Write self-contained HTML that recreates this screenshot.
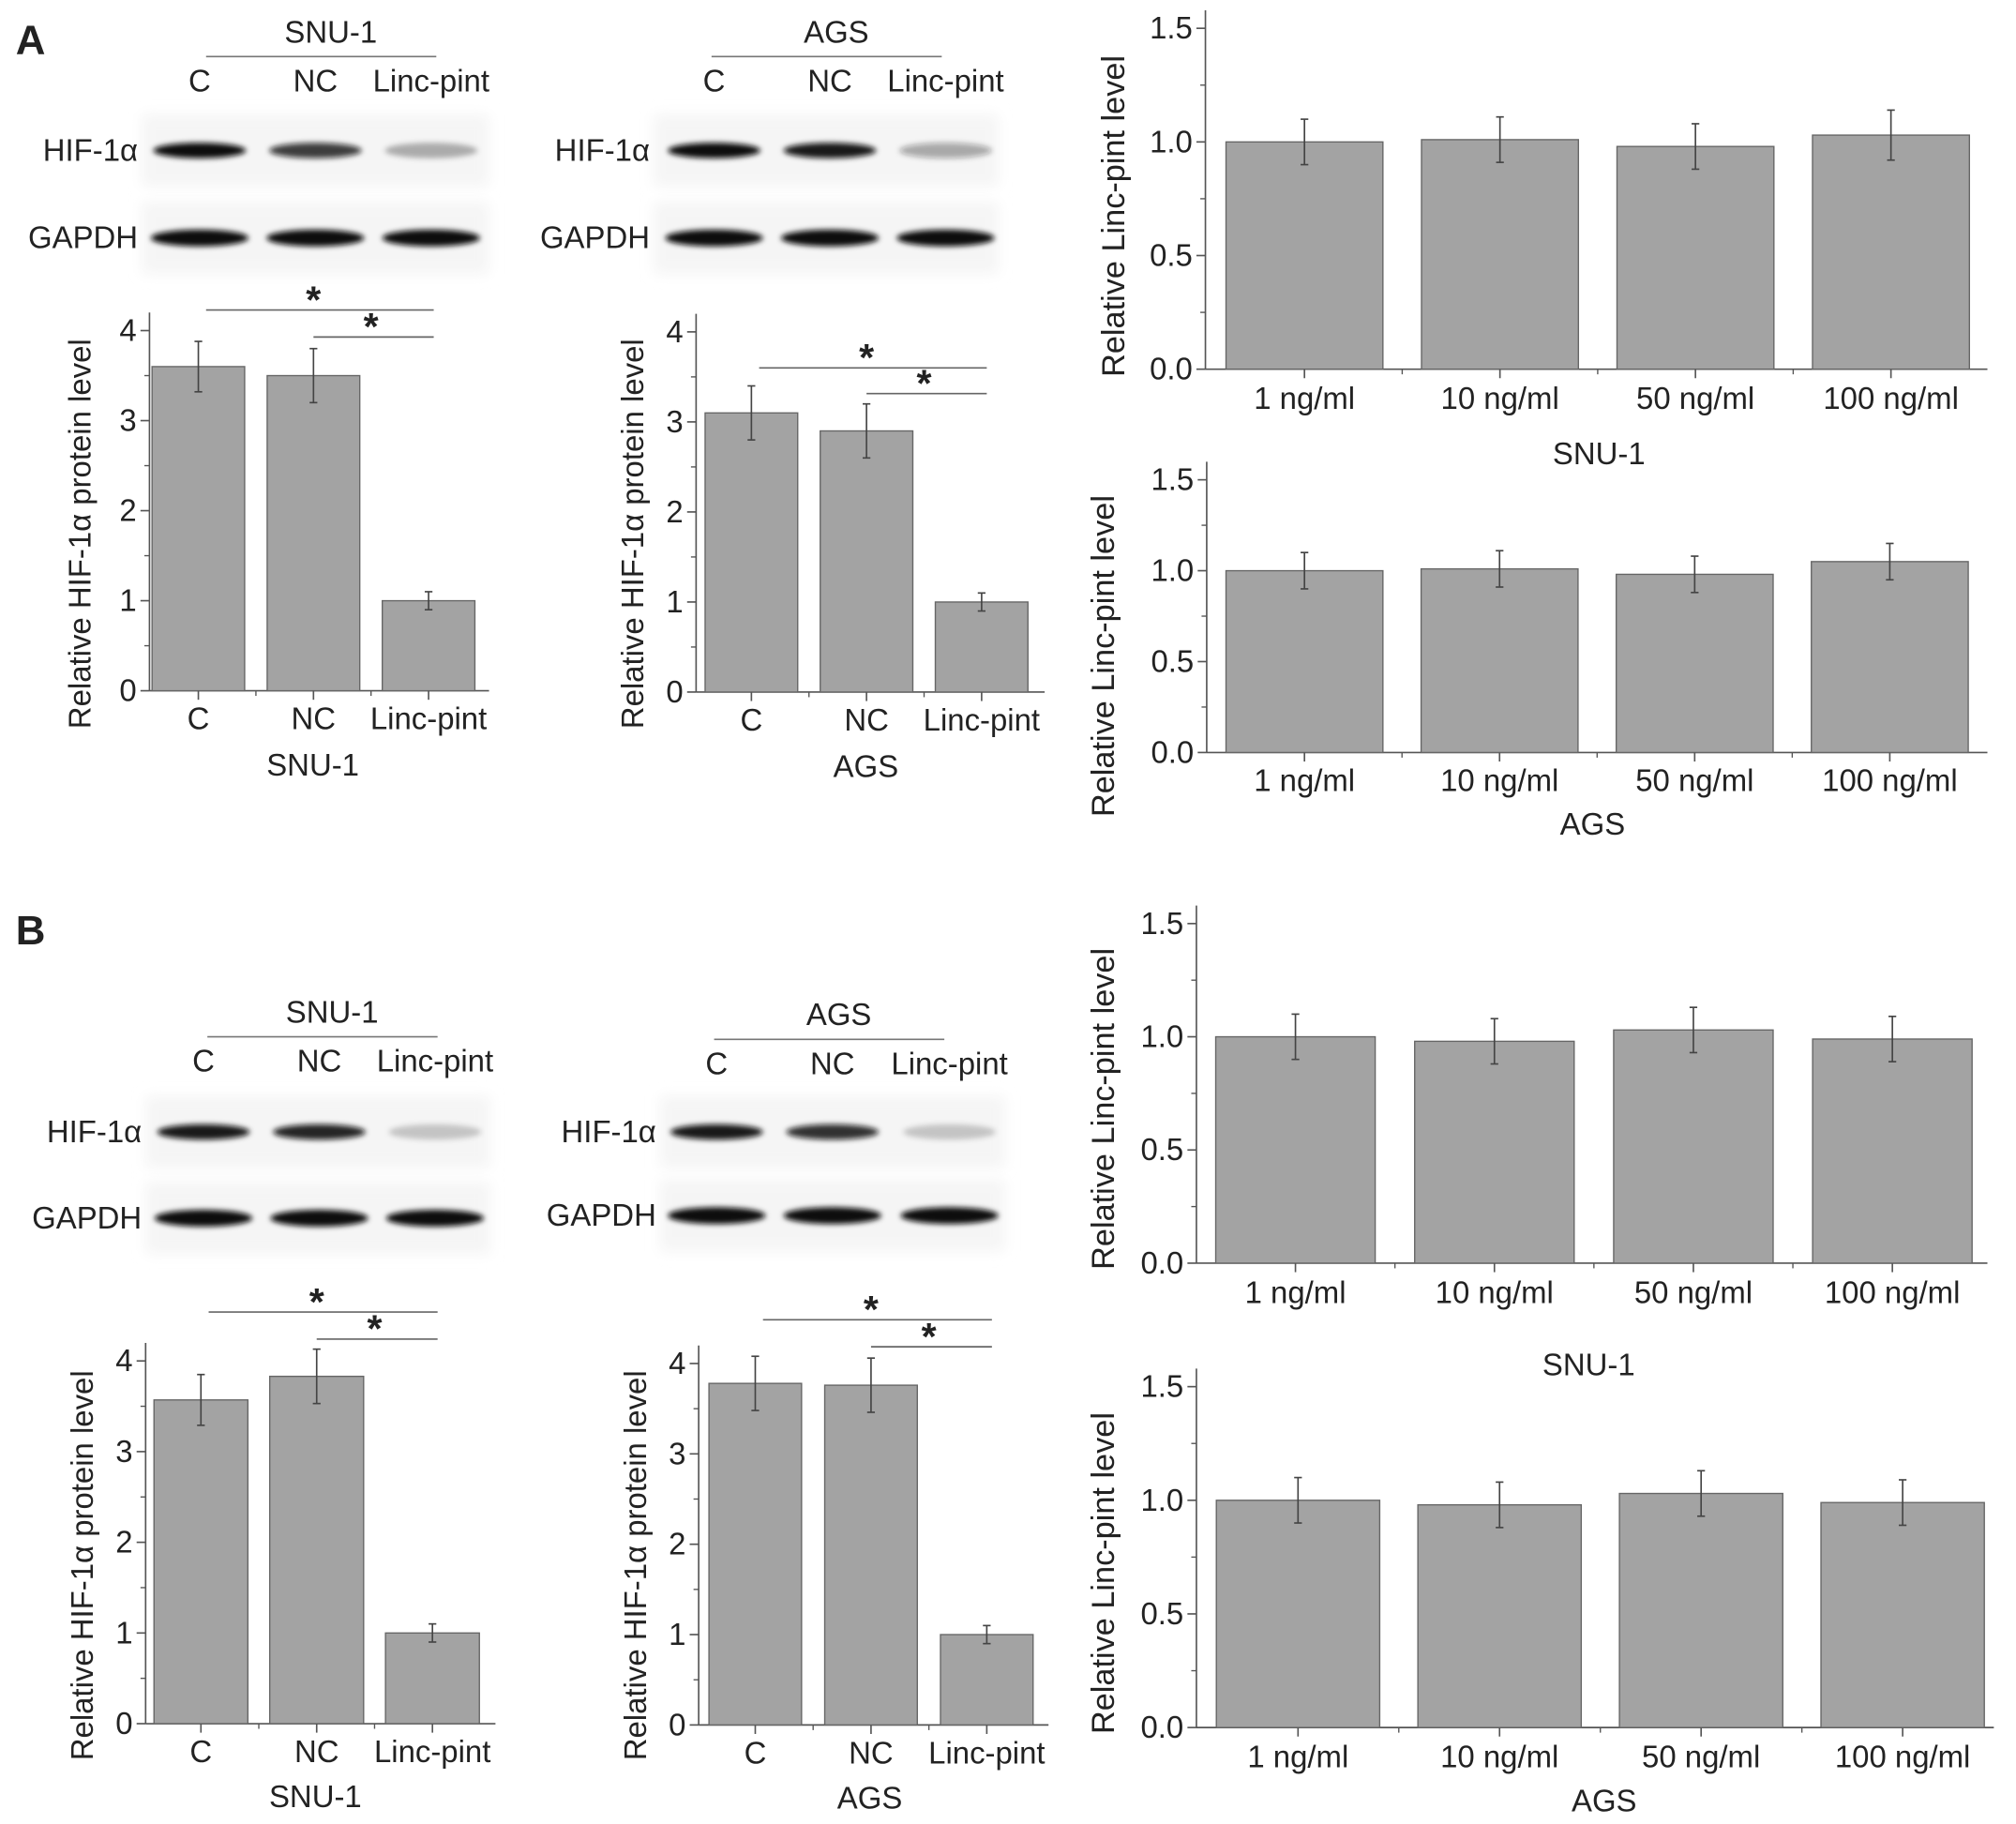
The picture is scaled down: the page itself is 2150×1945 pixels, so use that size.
<!DOCTYPE html>
<html><head><meta charset="utf-8"><style>
html,body{margin:0;padding:0;background:#fff}
svg{display:block}
text{font-family:"Liberation Sans",sans-serif;fill:#222}
</style></head><body>
<svg id="fig" width="2150" height="1945" viewBox="0 0 1567 1418" xmlns="http://www.w3.org/2000/svg">
<defs>
<filter id="blur" x="-20%" y="-100%" width="140%" height="300%"><feGaussianBlur stdDeviation="2.2"/></filter>
<filter id="blur2" x="-10%" y="-50%" width="120%" height="200%"><feGaussianBlur stdDeviation="5"/></filter>
</defs>
<text x="12" y="42" font-size="32" font-weight="bold">A</text>
<text x="12" y="734" font-size="32" font-weight="bold">B</text>
</svg>
<script>
const svg = document.getElementById('fig');
const NS = 'http://www.w3.org/2000/svg';
function mk(tag, attrs, parent){const e=document.createElementNS(NS,tag);for(const k in attrs)e.setAttribute(k,attrs[k]);(parent||svg).appendChild(e);return e;}
function txt(x,y,s,size,anchor,parent,rot){const t=mk('text',{x:x,y:y,'font-size':size,'text-anchor':anchor||'middle'},parent);if(rot)t.setAttribute('transform','rotate(-90 '+x+' '+y+')');t.textContent=s;return t;}

// ---------- data ----------
const hifCats = ['C','NC','Linc-pint'];
const doseCats = ['1 ng/ml','10 ng/ml','50 ng/ml','100 ng/ml'];
const hifTicks = [0,1,2,3,4];
const doseTicks = ['0.0','0.5','1.0','1.5'];
const aSnuVals = [3.6,3.5,1.0];
const aSnuErr = [0.28,0.3,0.1];
const aAgsVals = [3.1,2.9,1.0];
const aAgsErr = [0.3,0.3,0.1];
const bSnuVals = [3.57,3.83,1.0];
const bSnuErr = [0.28,0.3,0.1];
const bAgsVals = [3.78,3.76,1.0];
const bAgsErr = [0.3,0.3,0.1];
const aDoseSnuVals = [1.0,1.01,0.98,1.03];
const aDoseSnuErr = [0.1,0.1,0.1,0.11];
const aDoseAgsVals = [1.0,1.01,0.98,1.05];
const aDoseAgsErr = [0.1,0.1,0.1,0.1];
const bDoseSnuVals = [1.0,0.98,1.03,0.99];
const bDoseSnuErr = [0.1,0.1,0.1,0.1];
const bDoseAgsVals = [1.0,0.98,1.03,0.99];
const bDoseAgsErr = [0.1,0.1,0.1,0.1];
const hifBand = {'A-SNU':[1.0,0.8,0.3],'A-AGS':[1.0,0.95,0.35],'B-SNU':[0.95,0.9,0.2],'B-AGS':[0.95,0.85,0.2]};

function chart(c){
  const g = mk('g',{});
  
  
  const yS = v => c.y0 - (v - c.vmin)/(c.vmax - c.vmin)*(c.y0 - c.yTop);
  const xS = i => c.c0 + i*c.step;
  mk('line',{x1:c.ax,y1:c.y0,x2:c.axEnd,y2:c.y0,stroke:'#555','stroke-width':1.2},g);
  mk('line',{x1:c.ax,y1:c.y0,x2:c.ax,y2:c.yTop-14,stroke:'#555','stroke-width':1.2},g);
  c.ticks.forEach((t,i)=>{
    const v=parseFloat(t), y=yS(v);
    mk('line',{x1:c.ax-7,y1:y,x2:c.ax,y2:y,stroke:'#555','stroke-width':1.2},g);
    txt(c.ax-10,y+8,String(t),24,'end',g);
    if(i<c.ticks.length-1){const ym=yS((v+parseFloat(c.ticks[i+1]))/2);mk('line',{x1:c.ax-4,y1:ym,x2:c.ax,y2:ym,stroke:'#555','stroke-width':1},g);}
  });
  c.vals.forEach((v,i)=>{
    const cx=xS(i), y=yS(v);
    const b=mk('rect',{x:cx-c.bw/2,y:y,width:c.bw,height:c.y0-y,fill:'#a3a3a3',stroke:'#666','stroke-width':1},g);
    
    
    const e=c.errs[i], yh=yS(v+e), yl=yS(v-e);
    mk('line',{x1:cx,y1:yh,x2:cx,y2:yl,stroke:'#444','stroke-width':1.2},g);
    mk('line',{x1:cx-3,y1:yh,x2:cx+3,y2:yh,stroke:'#444','stroke-width':1.2},g);
    mk('line',{x1:cx-3,y1:yl,x2:cx+3,y2:yl,stroke:'#444','stroke-width':1.2},g);
    mk('line',{x1:cx,y1:c.y0,x2:cx,y2:c.y0+7,stroke:'#555','stroke-width':1.2},g);
    if(i<c.vals.length-1){const xm=cx+c.step/2;mk('line',{x1:xm,y1:c.y0,x2:xm,y2:c.y0+4,stroke:'#555','stroke-width':1},g);}
    txt(cx,c.y0+c.labOff,c.cats[i],24,'middle',g);
  });
  const yt=txt(c.ytX,c.ytY,c.ytitle,c.ytSize||24,'middle',g,true);
  
  
  if(c.caption){const ct=txt(c.capX,c.capY,c.caption,24,'middle',g);}
  (c.sig||[]).forEach(s=>{
    mk('line',{x1:xS(s[0])+(s[0]===0?6:0),y1:s[2],x2:xS(s[1])+4,y2:s[2],stroke:'#666','stroke-width':1.2},g);
    txt((xS(s[0])+xS(s[1]))/2,s[2]+2,'*',30,'middle',g).setAttribute('font-weight','bold');
  });
}

function blot(b){
  const g=mk('g',{});
  
  
  txt(b.hx,b.hy,b.title,24,'middle',g);
  mk('line',{x1:b.hx-97,y1:b.hy+11,x2:b.hx+82,y2:b.hy+11,stroke:'#777','stroke-width':1.2},g);
  b.lanes.forEach((lx,i)=>txt(lx,b.hy+38,hifCats[i],24,'middle',g));
  mk('rect',{x:b.bx,y:b.hifY-28,width:b.bw,height:56,fill:'#f5f5f5',filter:'url(#blur2)'},g);
  mk('rect',{x:b.bx,y:b.gY-28,width:b.bw,height:56,fill:'#f5f5f5',filter:'url(#blur2)'},g);
  txt(b.bx-3,b.hifY+8,'HIF-1α',24,'end',g);
  txt(b.bx-3,b.gY+8,'GAPDH',24,'end',g);
  hifBand[b.key].forEach((a,i)=>{
    mk('ellipse',{cx:b.lanes[i],cy:b.hifY,rx:36,ry:6,fill:'#111','fill-opacity':a,filter:'url(#blur)'},g);
    mk('ellipse',{cx:b.lanes[i],cy:b.gY,rx:38,ry:6.5,fill:'#111',filter:'url(#blur)'},g);
  });
}

blot({name:'blot-a-snu1',key:'A-SNU',title:'SNU-1',hx:257,hy:33,lanes:[155,245,335],bx:110,bw:270,hifY:117,gY:185});
blot({name:'blot-a-ags',key:'A-AGS',title:'AGS',hx:650,hy:33,lanes:[555,645,735],bx:508,bw:268,hifY:117,gY:185});
blot({name:'blot-b-snu1',key:'B-SNU',title:'SNU-1',hx:258,hy:795,lanes:[158,248,338],bx:113,bw:268,hifY:880,gY:947});
blot({name:'blot-b-ags',key:'B-AGS',title:'AGS',hx:652,hy:797,lanes:[557,647,738],bx:513,bw:268,hifY:880,gY:945});

const hifT='Relative HIF-1α protein level', dT='Relative Linc-pint level';
chart({name:'chart-a-snu1-hif',cats:hifCats,vals:aSnuVals,errs:aSnuErr,ticks:hifTicks,vmin:0,vmax:4,ax:116,axEnd:380,y0:537,yTop:257,c0:154,step:89.5,bw:72,labOff:30,ytitle:hifT,ytX:70,ytY:415,caption:'SNU-1',capX:243,capY:603,sig:[[0,2,241],[1,2,262]]});
chart({name:'chart-a-ags-hif',cats:hifCats,vals:aAgsVals,errs:aAgsErr,ticks:hifTicks,vmin:0,vmax:4,ax:541,axEnd:812,y0:538,yTop:258,c0:584,step:89.5,bw:72,labOff:30,ytitle:hifT,ytX:500,ytY:415,caption:'AGS',capX:673,capY:604,sig:[[0,2,286],[1,2,306]]});
chart({name:'chart-b-snu1-hif',cats:hifCats,vals:bSnuVals,errs:bSnuErr,ticks:hifTicks,vmin:0,vmax:4,ax:113,axEnd:385,y0:1340,yTop:1058,c0:156,step:90,bw:73,labOff:30,ytitle:hifT,ytX:72,ytY:1217,caption:'SNU-1',capX:245,capY:1405,sig:[[0,2,1020],[1,2,1041]]});
chart({name:'chart-b-ags-hif',cats:hifCats,vals:bAgsVals,errs:bAgsErr,ticks:hifTicks,vmin:0,vmax:4,ax:543,axEnd:815,y0:1341,yTop:1060,c0:587,step:90,bw:72,labOff:30,ytitle:hifT,ytX:502,ytY:1217,caption:'AGS',capX:676,capY:1406,sig:[[0,2,1026],[1,2,1047]]});

chart({name:'chart-a-snu1-dose',cats:doseCats,vals:aDoseSnuVals,errs:aDoseSnuErr,ticks:doseTicks,vmin:0,vmax:1.5,ax:937,axEnd:1545,y0:287,yTop:22,c0:1014,step:152,bw:122,labOff:31,ytitle:dT,ytX:874,ytY:168,ytSize:25,caption:'SNU-1',capX:1243,capY:361});
chart({name:'chart-a-ags-dose',cats:doseCats,vals:aDoseAgsVals,errs:aDoseAgsErr,ticks:doseTicks,vmin:0,vmax:1.5,ax:938,axEnd:1545,y0:585,yTop:373,c0:1014,step:151.7,bw:122,labOff:30,ytitle:dT,ytX:866,ytY:510,ytSize:25,caption:'AGS',capX:1238,capY:649});
chart({name:'chart-b-snu1-dose',cats:doseCats,vals:bDoseSnuVals,errs:bDoseSnuErr,ticks:doseTicks,vmin:0,vmax:1.5,ax:930,axEnd:1545,y0:982,yTop:718,c0:1007,step:154.7,bw:124,labOff:31,ytitle:dT,ytX:866,ytY:862,ytSize:25,caption:'SNU-1',capX:1235,capY:1069});
chart({name:'chart-b-ags-dose',cats:doseCats,vals:bDoseAgsVals,errs:bDoseAgsErr,ticks:doseTicks,vmin:0,vmax:1.5,ax:930,axEnd:1550,y0:1343,yTop:1078,c0:1009,step:156.7,bw:127,labOff:31,ytitle:dT,ytX:866,ytY:1223,ytSize:25,caption:'AGS',capX:1247,capY:1408});
</script>
</body></html>
